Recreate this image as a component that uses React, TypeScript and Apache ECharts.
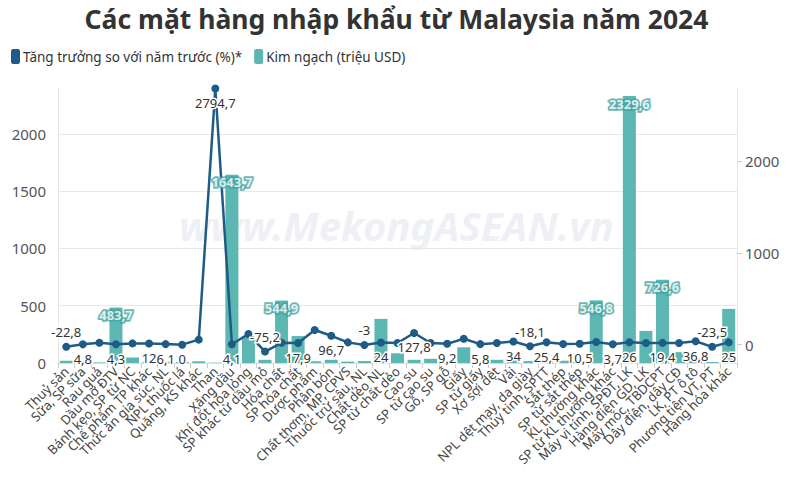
import React, { useEffect, useRef } from "react";
import * as echarts from "echarts";

const categories = [
  "Thuỷ sản", "Sữa, SP sữa", "Rau quả", "Dầu mỡ ĐTV", "Bánh kẹo, SP từ NC",
  "Chế phẩm TP khác", "Thức ăn gia súc, NL", "NPL thuốc lá", "Quặng, KS khác", "Than",
  "Xăng dầu", "Khí đốt hóa lỏng", "SP khác từ dầu mỏ", "Hóa chất", "SP hóa chất",
  "Dược phẩm", "Phân bón", "Chất thơm, MP, CPVS", "Thuốc trừ sâu, NL", "Chất dẻo NL",
  "SP từ chất dẻo", "Cao su", "SP từ cao su", "Gỗ, SP gỗ", "Giấy",
  "SP từ giấy", "Xơ sợi dệt", "Vải", "NPL dệt may, da giày", "Thủy tinh, SPTT",
  "Sắt thép", "SP từ sắt thép", "KL thường khác", "SP từ KL thường khác", "Máy vi tính, SPĐT, LK",
  "Hàng điện GD, LK", "Máy móc, TBDCPT", "Dây điện, dây CĐ", "LK, PT ô tô", "Phương tiện VT, PT",
  "Hàng hóa khác",
];

// Kim ngạch (triệu USD)
const importValues = [
  20, 8, 5, 483.7, 48,
  10, 12, 8, 15, 3,
  1643.7, 235, 28, 544.9, 235,
  15, 28, 12, 17, 385,
  85, 28, 37, 12, 137,
  10, 28, 32, 17, 15,
  20, 10, 546.8, 12, 2329.6,
  280, 726.6, 95, 20, 8,
  472,
];

// Tăng trưởng so với năm trước (%)
const growthValues = [
  -22.8, 4.8, 20, 4.3, 14,
  12, 6.1, 0, 55, 2794.7,
  4.1, 117, -75.2, 20, 17.9,
  160, 96.7, 25, -3, 24,
  18, 127.8, 18, 9.2, 65,
  5.8, 18, 34, -18.1, 25.4,
  8, 10.5, 30, 3.7, 26,
  18, 19.4, 18, 36.8, -23.5,
  25,
];

const labelledImports = ["Dầu mỡ ĐTV", "Xăng dầu", "Hóa chất", "KL thường khác", "Máy vi tính, SPĐT, LK", "Máy móc, TBDCPT"];
const unlabelledGrowth = [
  "Rau quả", "Bánh kẹo, SP từ NC", "Quặng, KS khác", "Khí đốt hóa lỏng", "Hóa chất",
  "Dược phẩm", "Chất thơm, MP, CPVS", "SP từ chất dẻo", "SP từ cao su", "Giấy",
  "Xơ sợi dệt", "Sắt thép", "KL thường khác", "Hàng điện GD, LK", "Dây điện, dây CĐ",
];

const leftTicks = [0, 500, 1000, 1500, 2000];
const rightTicks = [0, 1000, 2000];

const fmt = (v: number) => String(v).replace(".", ",");

const FONT = "Noto Sans";
const BAR = "#5cb6b2";
const LINE = "#1e5b86";

export default function App() {
  const ref = useRef<HTMLDivElement>(null);
  useEffect(() => {
    if (!ref.current) return;
    const chart = echarts.init(ref.current, undefined, { renderer: "svg" });
    chart.setOption({
      animation: false,
      textStyle: { fontFamily: FONT },
      title: {
        text: "Các mặt hàng nhập khẩu từ Malaysia năm 2024",
        left: "center",
        top: 0,
        textStyle: { fontFamily: FONT, fontSize: 26.5, fontWeight: "bold", color: "#333" },
      },
      graphic: [
        {
          type: "text",
          left: "center",
          top: 205,
          silent: true,
          z: -1,
          style: {
            text: "www.MekongASEAN.vn",
            fontFamily: FONT,
            fontSize: 40,
            fontStyle: "italic",
            fontWeight: "bold",
            fill: "#eef0f5",
          },
        },
      ],
      legend: {
        left: 6,
        top: 44,
        icon: "roundRect",
        itemWidth: 9,
        itemHeight: 15,
        itemGap: 12,
        textStyle: { fontFamily: FONT, fontSize: 13.5, color: "#333", padding: [0, 0, 0, -2] },
        data: ["Tăng trưởng so với năm trước (%)*", "Kim ngạch (triệu USD)"],
      },
      grid: { left: 58, right: 56, top: 88, bottom: 129, containLabel: false },
      xAxis: {
        type: "category",
        data: categories,
        axisLine: { lineStyle: { color: "#dcdcdc" } },
        axisTick: { show: true, lineStyle: { color: "#cccccc" }, length: 5 },
        axisLabel: {
          interval: 0,
          rotate: 45,
          fontSize: 13,
          color: "#444",
          margin: 6,
          fontFamily: FONT,
        },
      },
      yAxis: [
        {
          type: "value",
          min: 0,
          max: 2400,
          position: "left",
          axisLine: { show: true, lineStyle: { color: "#e6e6e6" } },
          axisTick: { show: false, customValues: leftTicks },
          axisLabel: {
            customValues: leftTicks,
            formatter: (v: number) => String(v),
            fontSize: 15,
            color: "#555",
            margin: 12,
            fontFamily: FONT,
          },
          splitLine: { show: true, lineStyle: { color: "#e8e8e8" } },
        },
        {
          type: "value",
          min: -200,
          max: 2800,
          position: "right",
          axisLine: { show: true, lineStyle: { color: "#e6e6e6" } },
          axisTick: { show: true, customValues: rightTicks, length: 5, lineStyle: { color: "#cccccc" } },
          axisLabel: {
            customValues: rightTicks,
            formatter: (v: number) => String(v),
            fontSize: 15,
            color: "#555",
            margin: 8,
            fontFamily: FONT,
          },
          splitLine: { show: false },
        },
      ],
      series: [
        {
          name: "Kim ngạch (triệu USD)",
          type: "bar",
          yAxisIndex: 0,
          barWidth: 13,
          itemStyle: { color: BAR },
          z: 2,
          data: importValues,
        },
        {
          name: "Tăng trưởng so với năm trước (%)*",
          type: "line",
          yAxisIndex: 1,
          symbol: "circle",
          symbolSize: 8,
          lineStyle: { color: LINE, width: 2.5 },
          itemStyle: { color: LINE },
          z: 5,
          data: growthValues.map((v, i) => ({
            value: v,
            label: {
              show: !unlabelledGrowth.includes(categories[i]),
              position: v < 0 ? "top" : "bottom",
              distance: 4,
              formatter: () => fmt(v),
              color: "#333",
              fontSize: 13,
              fontFamily: FONT,
              textBorderColor: "#fff",
              textBorderWidth: 3,
            },
          })),
        },
        {
          name: "barLabels",
          type: "scatter",
          yAxisIndex: 0,
          symbolSize: 0,
          silent: true,
          z: 10,
          data: importValues.map((v, i) => (labelledImports.includes(categories[i]) ? v : null)),
          label: {
            show: true,
            position: "bottom",
            distance: 1,
            formatter: (p: any) => fmt(p.value),
            color: "#fff",
            fontWeight: "bold",
            fontSize: 13,
            fontFamily: FONT,
            textBorderColor: "#45a5a1",
            textBorderWidth: 3.5,
          },
        },
      ],
    });
    return () => chart.dispose();
  }, []);
  return (
    <div
      ref={ref}
      style={{ position: "absolute", left: 0, top: 0, width: 793, height: 492 }}
    />
  );
}
